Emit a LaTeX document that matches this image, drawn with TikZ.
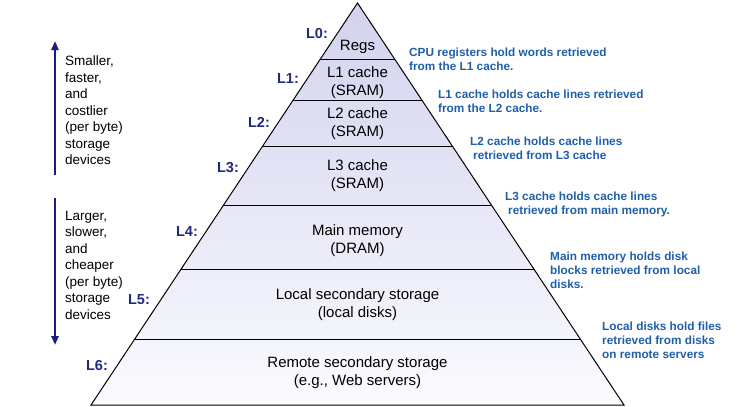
\documentclass[tikz,border=0pt]{standalone}
\usepackage{fontspec}
\setmainfont{Liberation Sans}
\usepackage{tikz}
\usetikzlibrary{arrows.meta,calc}
\definecolor{lvlnavy}{HTML}{1F2A7F}
\definecolor{arrnavy}{HTML}{1C1C80}
\definecolor{noteblue}{HTML}{1F5FAA}
\definecolor{pyrtop}{HTML}{D2D2EE}
\definecolor{pyrbot}{HTML}{FBFBFF}

\begin{document}
\begin{tikzpicture}[x=1pt, y=-1pt, >={Triangle[length=9pt,width=7pt]},
	every node/.style={inner sep=0pt},
	tier/.style={align=center, font=\fontsize{15}{18}\selectfont},
	lvl/.style={font=\fontsize{14.5}{17}\selectfont\bfseries, text=lvlnavy},
	note/.style={anchor=west, align=left, font=\fontsize{11.8}{14}\selectfont\bfseries, text=noteblue},
	side/.style={anchor=west, align=left, font=\fontsize{13.5}{16.5}\selectfont},
	trend/.style={->, arrnavy, line width=2.6pt}]
	\useasboundingbox (0,0) rectangle (750,407);
	% pyramid
	\coordinate (apex) at (357.5,3);
	\coordinate (bl) at (91,405);
	\coordinate (br) at (624,405);
	\shade[top color=pyrtop, bottom color=pyrbot] (apex) -- (bl) -- (br) -- cycle;
	\draw[line width=1pt] (apex) -- (bl) -- (br) -- cycle;
	\foreach \y in {60,101,147,205,270,339}
		\draw[line width=1pt] ($(apex)!{(\y-3)/402}!(bl)$) -- ($(apex)!{(\y-3)/402}!(br)$);
	% tiers
	\node[tier] (regs) at (357.5,47) {Regs};
	\node[tier] (l1c) at (357.5,82.5) {L1 cache\\(SRAM)};
	\node[tier] (l2c) at (357.5,124) {L2 cache\\(SRAM)};
	\node[tier] (l3c) at (357.5,176) {L3 cache\\(SRAM)};
	\node[tier] (mem) at (357.5,241) {Main memory\\(DRAM)};
	\node[tier] (loc) at (357.5,305) {Local secondary storage\\(local disks)};
	\node[tier] (rem) at (357.5,373) {Remote secondary storage\\(e.g., Web servers)};
	% level labels
	\node[lvl] (L0) at (317,34) {L0:};
	\node[lvl] (L1) at (288,79) {L1:};
	\node[lvl] (L2) at (259,122) {L2:};
	\node[lvl] (L3) at (228,168) {L3:};
	\node[lvl] (L4) at (187,232) {L4:};
	\node[lvl] (L5) at (139,300) {L5:};
	\node[lvl] (L6) at (97,366) {L6:};
	% notes
	\node[note] (n0) at (409,59.5) {CPU registers hold words retrieved\\from the L1 cache.};
	\node[note] (n1) at (438,101) {L1 cache holds cache lines retrieved\\from the L2 cache.};
	\node[note] (n2) at (470,148.5) {L2 cache holds cache lines\\\hspace*{3pt}retrieved from L3 cache};
	\node[note] (n3) at (505,204) {L3 cache holds cache lines\\\hspace*{3pt}retrieved from main memory.};
	\node[note] (n4) at (550,270) {Main memory holds disk\\blocks retrieved from local\\disks.};
	\node[note] (n5) at (602,340) {Local disks hold files\\retrieved from disks\\on remote servers};
	% trends
	\coordinate (upS) at (55,175);
	\coordinate (upE) at (55,41);
	\coordinate (dnS) at (55,198);
	\coordinate (dnE) at (55,345);
	\draw[trend] (upS) -- (upE);
	\draw[trend] (dnS) -- (dnE);
	\node[side] (small) at (65,110.5) {Smaller,\\faster,\\and\\costlier\\(per byte)\\storage\\devices};
	\node[side] (large) at (65,265) {Larger,\\slower,\\and\\cheaper\\(per byte)\\storage\\devices};
\end{tikzpicture}
\end{document}
